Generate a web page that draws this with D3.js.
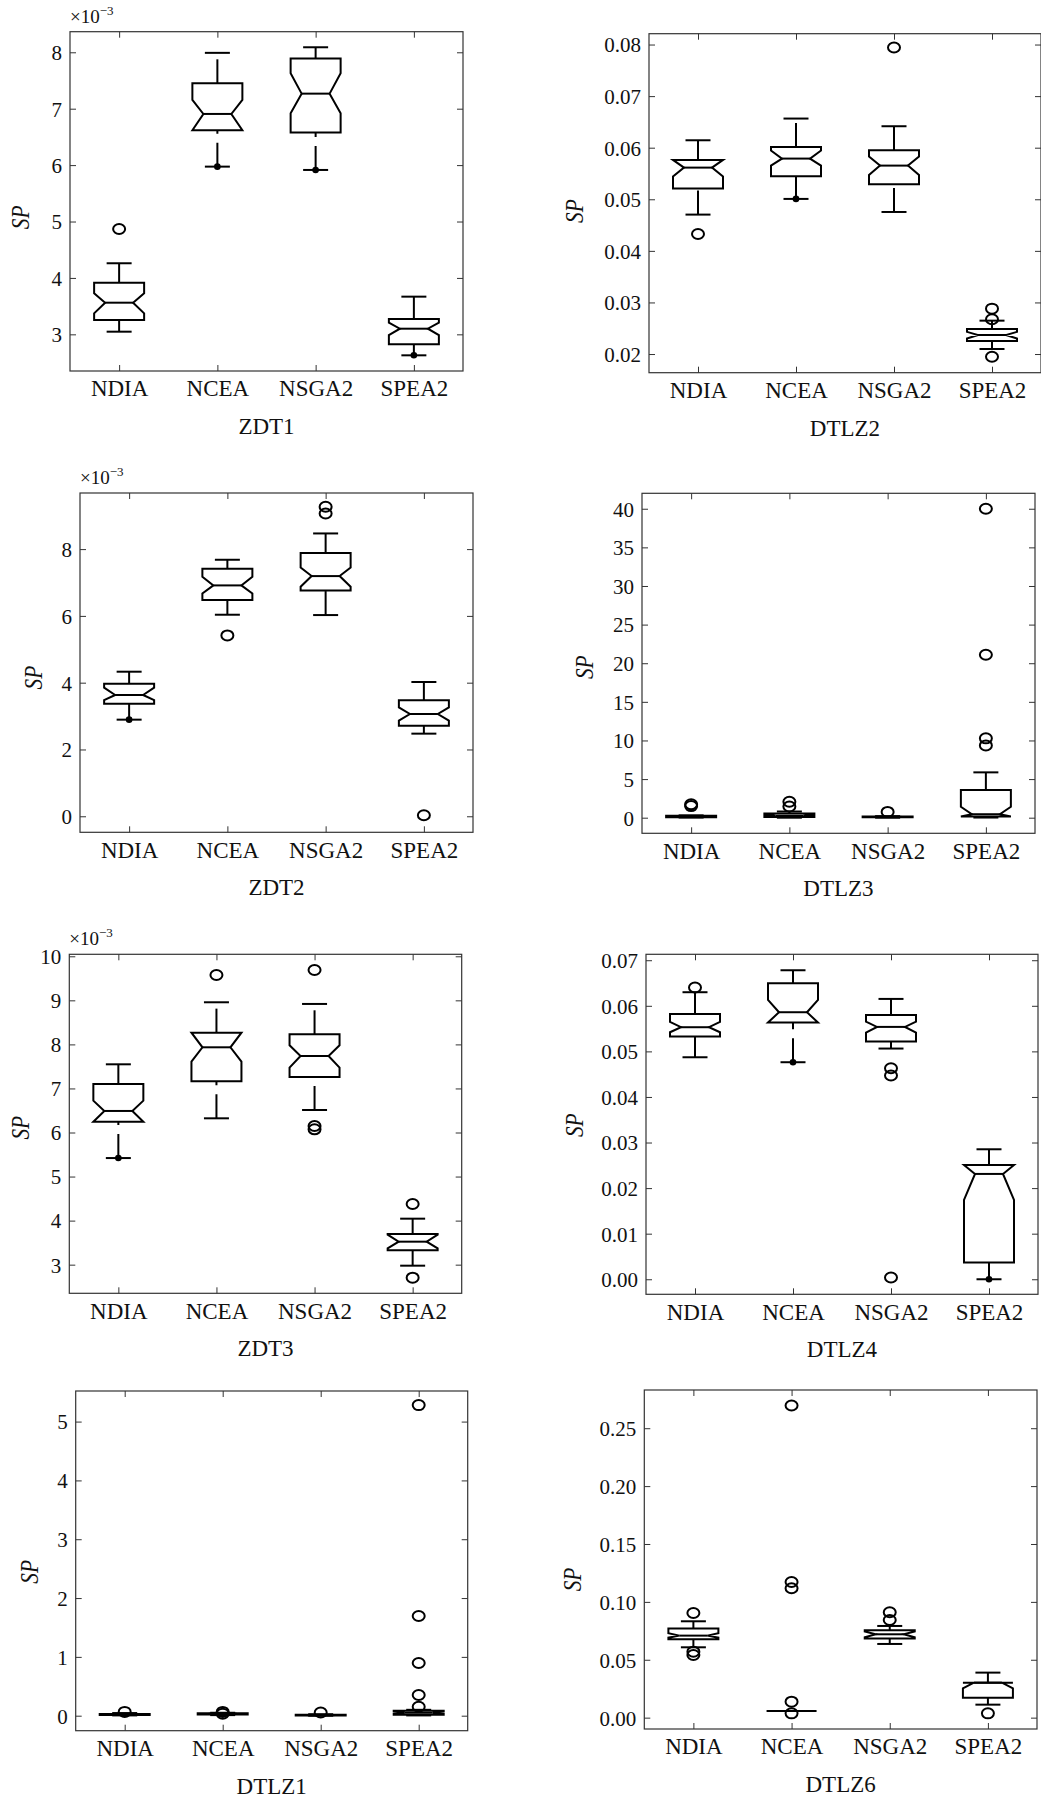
<!DOCTYPE html>
<html>
<head>
<meta charset="utf-8">
<script src="https://cdn.jsdelivr.net/npm/d3@7"></script>
<style>
  body { margin: 0; background: #fff; }
  svg { display: block; }
  text { font-family: "Liberation Serif", "Times New Roman", serif; fill: #111; }
</style>
</head>
<body>
<script>
// algorithms on the x axis of every panel
const algorithms = ["NDIA", "NCEA", "NSGA2", "SPEA2"];
const problems = ["ZDT1", "DTLZ2", "ZDT2", "DTLZ3", "ZDT3", "DTLZ4", "DTLZ1", "DTLZ6"];

// each box: [lower whisker, q1, notch low, median, notch high, q3, upper whisker]
const zdt1Boxes = [
    [3.047, 3.254, 3.372, 3.561, 3.727, 3.916, 4.26],
    [5.973, 6.617, 6.617, 6.907, 7.155, 7.45, 7.99],
    [5.914, 6.576, 6.918, 7.267, 7.628, 7.888, 8.089],
    [2.628, 2.823, 2.988, 3.100, 3.207, 3.272, 3.668]
];
const zdt1Outliers = [[4.868], [], [], []];
const zdt1Dots = [null, 5.973, 5.914, 2.628];

const dtlz2Boxes = [
    [0.04703, 0.05207, 0.0544, 0.05614, 0.05763, 0.05763, 0.06144],
    [0.05007, 0.05446, 0.05653, 0.05789, 0.05944, 0.06015, 0.06565],
    [0.04754, 0.0529, 0.05472, 0.05653, 0.05828, 0.0595, 0.06416],
    [0.02097, 0.02252, 0.0230, 0.02369, 0.0243, 0.02485, 0.02647]
];
const dtlz2Outliers = [[0.04328], [], [0.07942], [0.0288, 0.02673, 0.01948]];
const dtlz2Dots = [null, 0.05007, null, null];

const zdt2Boxes = [
    [2.893, 3.372, 3.481, 3.631, 3.85, 3.97, 4.329],
    [6.035, 6.474, 6.673, 6.913, 7.172, 7.412, 7.681],
    [6.025, 6.763, 6.873, 7.192, 7.451, 7.88, 8.469],
    [2.474, 2.713, 2.863, 3.062, 3.262, 3.471, 4.02]
];
const zdt2Outliers = [[], [5.416], [9.267, 9.067], [0.03]];
const zdt2Dots = [2.893, null, null, null];

const dtlz3Boxes = [
    [0.02, 0.05, 0.08, 0.15, 0.22, 0.25, 0.3],
    [0.0, 0.1, 0.15, 0.25, 0.4, 0.55, 0.8],
    [0.0, 0.05, 0.07, 0.1, 0.13, 0.15, 0.2],
    [0.02, 0.15, 0.15, 0.45, 1.42, 3.58, 5.87]
];
const dtlz3Outliers = [[1.73, 1.5], [2.07, 1.45], [0.75], [40.0, 21.1, 10.27, 9.36]];
const dtlz3Dots = [null, null, null, null];

const zdt3Boxes = [
    [5.42, 6.246, 6.246, 6.489, 6.723, 7.102, 7.548],
    [6.322, 7.162, 7.609, 7.934, 8.267, 8.267, 8.956],
    [6.511, 7.26, 7.472, 7.737, 7.979, 8.229, 8.918],
    [2.977, 3.325, 3.37, 3.522, 3.68, 3.696, 4.044]
];
const zdt3Outliers = [[], [9.576], [9.69, 6.148, 6.072], [4.377, 2.705]];
const zdt3Dots = [5.42, null, null, null];

const dtlz4Boxes = [
    [0.04871, 0.05325, 0.0542, 0.0553, 0.05647, 0.05822, 0.06298],
    [0.04762, 0.05632, 0.05632, 0.05859, 0.0613, 0.06495, 0.0678],
    [0.05062, 0.05215, 0.05413, 0.05537, 0.05654, 0.058, 0.06151],
    [0.0, 0.00365, 0.01741, 0.02311, 0.02509, 0.02509, 0.02852]
];
const dtlz4Outliers = [[0.064], [], [0.0463, 0.0447, 0.0004], []];
const dtlz4Dots = [null, 0.04762, null, 0.0];

const dtlz1Boxes = [
    [0.005, 0.01, 0.012, 0.02, 0.028, 0.03, 0.045],
    [0.01, 0.02, 0.025, 0.033, 0.04, 0.042, 0.05],
    [0.0, 0.005, 0.007, 0.01, 0.013, 0.015, 0.025],
    [0.005, 0.015, 0.03, 0.05, 0.07, 0.085, 0.1]
];
const dtlz1Outliers = [[0.065], [0.065, 0.035], [0.055], [5.28, 1.695, 0.896, 0.351, 0.153]];
const dtlz1Dots = [null, null, null, null];

const dtlz6Boxes = [
    [0.06077, 0.06768, 0.0691, 0.07085, 0.0729, 0.0769, 0.08324],
    [0.00576, 0.00576, 0.00576, 0.00576, 0.00576, 0.00576, 0.00576],
    [0.06365, 0.06826, 0.0695, 0.072, 0.0745, 0.07546, 0.0792],
    [0.01123, 0.01728, 0.02535, 0.03024, 0.03024, 0.03024, 0.0389]
];
const dtlz6Outliers = [[0.0904, 0.057, 0.0541], [0.2696, 0.1172, 0.1118, 0.0138, 0.0037], [0.091, 0.0844], [0.0037]];
const dtlz6Dots = [null, null, null, null];

// y tick values per panel
const zdt1Ticks = [3, 4, 5, 6, 7, 8];
const dtlz2Ticks = [0.02, 0.03, 0.04, 0.05, 0.06, 0.07, 0.08];
const zdt2Ticks = [0, 2, 4, 6, 8];
const dtlz3Ticks = [0, 5, 10, 15, 20, 25, 30, 35, 40];
const zdt3Ticks = [3, 4, 5, 6, 7, 8, 9, 10];
const dtlz4Ticks = [0, 0.01, 0.02, 0.03, 0.04, 0.05, 0.06, 0.07];
const dtlz1Ticks = [0, 1, 2, 3, 4, 5];
const dtlz6Ticks = [0, 0.05, 0.10, 0.15, 0.20, 0.25];

const panelData = [
    { boxes: zdt1Boxes, outliers: zdt1Outliers, dots: zdt1Dots, ticks: zdt1Ticks, fmt: "d", exp: true },
    { boxes: dtlz2Boxes, outliers: dtlz2Outliers, dots: dtlz2Dots, ticks: dtlz2Ticks, fmt: ".2f", exp: false },
    { boxes: zdt2Boxes, outliers: zdt2Outliers, dots: zdt2Dots, ticks: zdt2Ticks, fmt: "d", exp: true },
    { boxes: dtlz3Boxes, outliers: dtlz3Outliers, dots: dtlz3Dots, ticks: dtlz3Ticks, fmt: "d", exp: false },
    { boxes: zdt3Boxes, outliers: zdt3Outliers, dots: zdt3Dots, ticks: zdt3Ticks, fmt: "d", exp: true },
    { boxes: dtlz4Boxes, outliers: dtlz4Outliers, dots: dtlz4Dots, ticks: dtlz4Ticks, fmt: ".2f", exp: false },
    { boxes: dtlz1Boxes, outliers: dtlz1Outliers, dots: dtlz1Dots, ticks: dtlz1Ticks, fmt: "d", exp: false },
    { boxes: dtlz6Boxes, outliers: dtlz6Outliers, dots: dtlz6Dots, ticks: dtlz6Ticks, fmt: ".2f", exp: false }
];

// panel geometry (plot area) and y label placement
const layout = [
    { left: 70,    top: 31.7,   width: 393, height: 339.3, domain: [2.35, 8.365],     labOff: 41, labDy: 16 },
    { left: 649,   top: 33.7,   width: 392, height: 339,   domain: [0.01638, 0.0821], labOff: 66, labDy: 8 },
    { left: 80,    top: 493,    width: 393, height: 339.3, domain: [-0.48, 9.68],     labOff: 38, labDy: 15 },
    { left: 642,   top: 493.3,  width: 393, height: 340,   domain: [-2.02, 42],       labOff: 49, labDy: 4 },
    { left: 69.3,  top: 954.3,  width: 392.4, height: 339, domain: [2.35, 10.045],    labOff: 40, labDy: 4 },
    { left: 646,   top: 954.3,  width: 392, height: 340,   domain: [-0.0033, 0.0713], labOff: 63, labDy: 1 },
    { left: 75.7,  top: 1391,   width: 392, height: 339.7, domain: [-0.255, 5.52],    labOff: 38, labDy: 11 },
    { left: 644.3, top: 1390,   width: 392.7, height: 339, domain: [-0.0098, 0.283],  labOff: 63, labDy: 20 }
];

const W = 1041, H = 1801;
const boxHalf = 25;
const tickLen = 6;

const svg = d3.select("body").append("svg")
    .attr("width", W)
    .attr("height", H);

problems.forEach((name, i) => {
    const p = panelData[i];
    const L = layout[i];

    const g = svg.append("g")
        .attr("transform", `translate(${L.left}, ${L.top})`);

    const x = d3.scalePoint()
        .domain(algorithms)
        .range([0, L.width])
        .padding(0.5);

    const y = d3.scaleLinear()
        .domain(L.domain)
        .range([L.height, 0]);

    // axes, ticks pointing inward on all four sides
    const left = g.append("g")
        .call(d3.axisLeft(y).tickValues(p.ticks).tickSize(-tickLen).tickPadding(8)
            .tickFormat(d3.format(p.fmt)));
    left.selectAll("text").style("font-size", "21px").attr("dy", "0.35em");

    g.append("g")
        .attr("transform", `translate(${L.width}, 0)`)
        .call(d3.axisRight(y).tickValues(p.ticks).tickSize(-tickLen).tickFormat(""));

    const bottom = g.append("g")
        .attr("transform", `translate(0, ${L.height})`)
        .call(d3.axisBottom(x).tickSize(-tickLen).tickPadding(9));
    bottom.selectAll("text").style("font-size", "23px");

    g.append("g")
        .call(d3.axisTop(x).tickSize(-tickLen).tickFormat(""));

    g.selectAll(".domain").remove();
    g.selectAll(".tick line").attr("stroke", "#333").attr("stroke-width", 1);
    g.selectAll(".tick text").attr("fill", "#111");

    g.append("rect")
        .attr("width", L.width)
        .attr("height", L.height)
        .attr("fill", "none")
        .attr("stroke", "#333")
        .attr("stroke-width", 1.2);

    const boxes = g.selectAll(".box")
        .data(p.boxes)
        .enter()
        .append("g")
        .attr("class", "box")
        .attr("transform", (d, j) => `translate(${x(algorithms[j])}, 0)`);

    // whiskers (dashed like the original, drawn from low to high value)
    boxes.append("line")
        .attr("x1", 0).attr("x2", 0)
        .attr("y1", d => y(d[5])).attr("y2", d => y(d[6]))
        .attr("stroke", "#000").attr("stroke-width", 2)
        .attr("stroke-dasharray", "24,9");
    boxes.append("line")
        .attr("x1", 0).attr("x2", 0)
        .attr("y1", d => y(d[0])).attr("y2", d => y(d[1]))
        .attr("stroke", "#000").attr("stroke-width", 2)
        .attr("stroke-dasharray", "24,9");

    // whisker caps
    [0, 6].forEach(k => {
        boxes.append("line")
            .attr("x1", -boxHalf / 2).attr("x2", boxHalf / 2)
            .attr("y1", d => y(d[k])).attr("y2", d => y(d[k]))
            .attr("stroke", "#000").attr("stroke-width", 2);
    });

    // notched box
    const nw = boxHalf * 0.56;
    boxes.append("path")
        .attr("d", d => {
            const pts = [
                [-boxHalf, y(d[1])], [-boxHalf, y(d[2])], [-nw, y(d[3])], [-boxHalf, y(d[4])],
                [-boxHalf, y(d[5])], [boxHalf, y(d[5])], [boxHalf, y(d[4])], [nw, y(d[3])],
                [boxHalf, y(d[2])], [boxHalf, y(d[1])]
            ];
            return d3.line()(pts) + "Z";
        })
        .attr("fill", "none")
        .attr("stroke", "#000")
        .attr("stroke-width", 2)
        .attr("stroke-linejoin", "miter");

    // median
    boxes.append("line")
        .attr("x1", -nw).attr("x2", nw)
        .attr("y1", d => y(d[3])).attr("y2", d => y(d[3]))
        .attr("stroke", "#000").attr("stroke-width", 2);

    // outliers
    boxes.each(function (d, j) {
        d3.select(this).selectAll(".outlier")
            .data(p.outliers[j])
            .enter()
            .append("ellipse")
            .attr("class", "outlier")
            .attr("cx", 0)
            .attr("cy", v => y(v))
            .attr("rx", 6)
            .attr("ry", 5)
            .attr("fill", "none")
            .attr("stroke", "#000")
            .attr("stroke-width", 2);
    });

    // filled dots at lower whisker end
    boxes.filter((d, j) => p.dots[j] !== null)
        .append("circle")
        .attr("cx", 0)
        .attr("cy", d => y(p.dots[p.boxes.indexOf(d)]))
        .attr("r", 3.3)
        .attr("fill", "#000");

    // y label (the original glyphs are a little condensed)
    g.append("text")
        .attr("transform", `translate(${-L.labOff}, ${L.height / 2 + L.labDy}) rotate(-90) scale(0.85, 1)`)
        .attr("text-anchor", "middle")
        .style("font-size", "25px")
        .style("font-style", "italic")
        .text("SP");

    // problem name under the axis
    g.append("text")
        .attr("x", L.width / 2)
        .attr("y", L.height + 63)
        .attr("text-anchor", "middle")
        .style("font-size", "23px")
        .text(name);

    if (p.exp) {
        const e = g.append("text")
            .attr("x", 0)
            .attr("y", -9)
            .style("font-size", "19px");
        e.append("tspan").text("×10");
        e.append("tspan")
            .attr("dy", -8)
            .style("font-size", "13px")
            .text("−3");
    }
});
</script>
</body>
</html>
